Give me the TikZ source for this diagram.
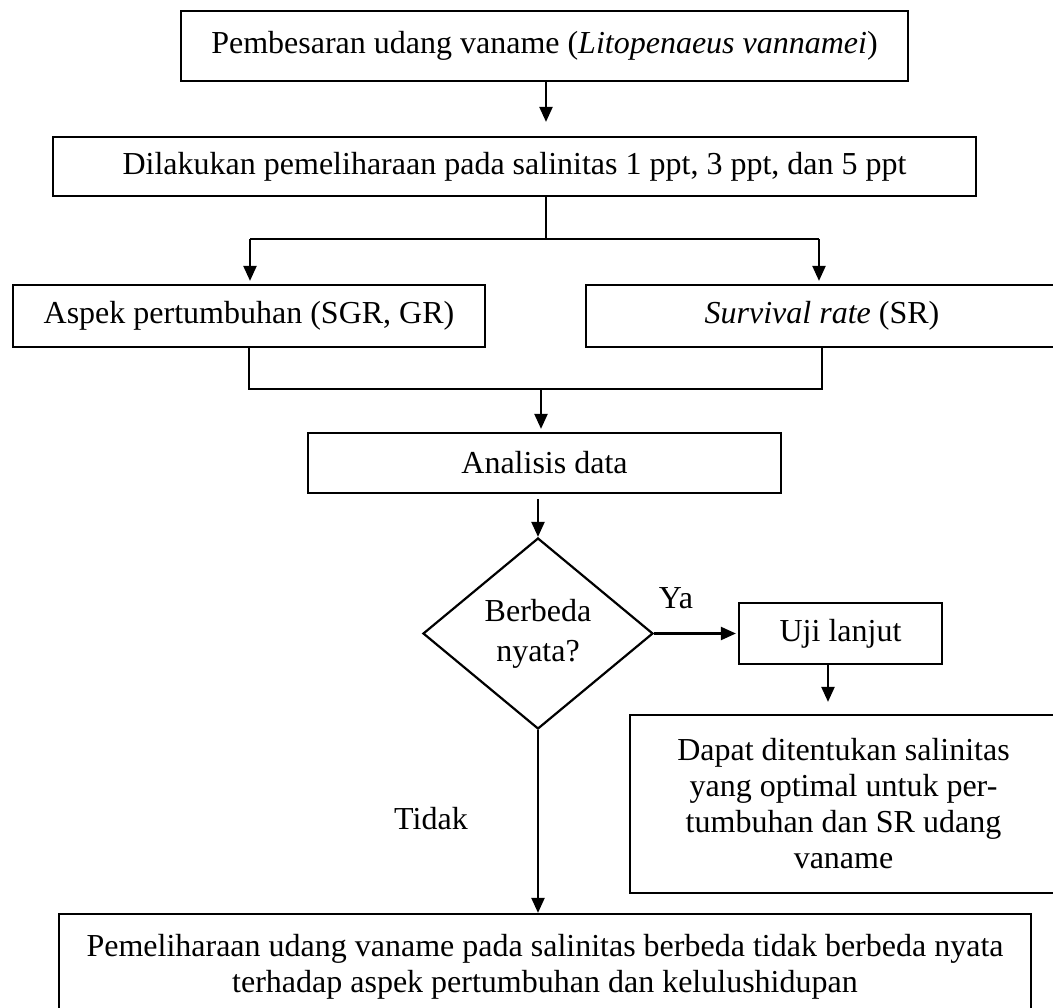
\documentclass[tikz,border=0pt]{standalone}
\usepackage{fontspec}
\setmainfont{Liberation Serif}
\usetikzlibrary{shapes.geometric,arrows.meta}
\begin{document}
\begin{tikzpicture}
        [x=1pt, y=-1pt, font=\fontsize{32}{36}\selectfont,
        box/.style={draw, line width=2.2pt, inner sep=0pt, align=center},
        decision/.style={draw, diamond, line width=2.2pt, inner sep=0pt, align=center,
            minimum width=230pt, minimum height=191pt, font=\fontsize{32}{40}\selectfont},
        edge/.style={line width=2.2pt, black},
        arrow/.style={line width=2.2pt, black, -{Triangle[length=15pt, width=13pt]}}]

        \useasboundingbox (0,0) rectangle (1053,1008);

        % boxes
        \node[box, minimum width=727pt, minimum height=70pt] (pembesaran) at (544.5,46) {Pembesaran udang vaname (\textit{Litopenaeus vannamei})};
        \node[box, minimum width=923pt, minimum height=59pt] (pemeliharaan) at (514.5,166.5) {Dilakukan pemeliharaan pada salinitas 1 ppt, 3 ppt, dan 5 ppt};
        \node[box, minimum width=472pt, minimum height=62pt] (pertumbuhan) at (249,316) {Aspek pertumbuhan (SGR, GR)};
        \node[box, minimum width=472pt, minimum height=62pt] (sr) at (822,316) {\textit{Survival rate} (SR)};
        \node[box, minimum width=473pt, minimum height=60pt] (analisis) at (544.5,463) {Analisis data};
        \node[decision] (beda) at (538,633.5) {Berbeda\\nyata?};
        \node[box, minimum width=203pt, minimum height=61pt] (uji) at (840.5,633.5) {Uji lanjut};
        \node[box, minimum width=427pt, minimum height=178pt] (optimal) at (843.5,804) {Dapat ditentukan salinitas\\yang optimal untuk per-\\tumbuhan dan SR udang\\vaname};
        % last box runs past the lower edge
        \node[box, minimum width=972pt, minimum height=150pt] (hasil) at (545,989) {};
        \node[align=center] (hasilteks) at (545,966.5) {Pemeliharaan udang vaname pada salinitas berbeda tidak berbeda nyata\\terhadap aspek pertumbuhan dan kelulushidupan};

        % labels for the decision
        \node (ya) at (676,598) {Ya};
        \node (tidak) at (431,819) {Tidak};

        % branching points
        \coordinate (split) at (546,239);
        \coordinate (kiri) at (250,239);
        \coordinate (kanan) at (819,239);
        \coordinate (gabung) at (541,389);
        \coordinate (ujibawah) at (828,664);

        % top part
        \draw[arrow, shorten >=14pt] (pembesaran.south -| split) -- (split |- pemeliharaan.north);
        \draw[edge] (split |- pemeliharaan.south) -- (split);
        \draw[edge] (kiri) -- (kanan);
        \draw[arrow, shorten >=3pt] (kiri) -- (kiri |- pertumbuhan.north);
        \draw[arrow, shorten >=3pt] (kanan) -- (kanan |- sr.north);

        % joining both aspects
        \draw[edge] (pertumbuhan.south) |- (sr.south |- gabung) -- (sr.south);
        \draw[arrow, shorten >=3pt] (gabung) -- (gabung |- analisis.north);
        \draw[arrow, shorten <=5pt] (analisis.south -| beda) -- (beda.north);

        % decision
        \draw[arrow, shorten >=2pt] (beda.east) -- (uji.west);
        \draw[arrow, shorten >=12pt] (ujibawah) -- (ujibawah |- optimal.north);
        \draw[arrow] (beda.south) -- (beda.south |- hasil.north);

\end{tikzpicture}
\end{document}
